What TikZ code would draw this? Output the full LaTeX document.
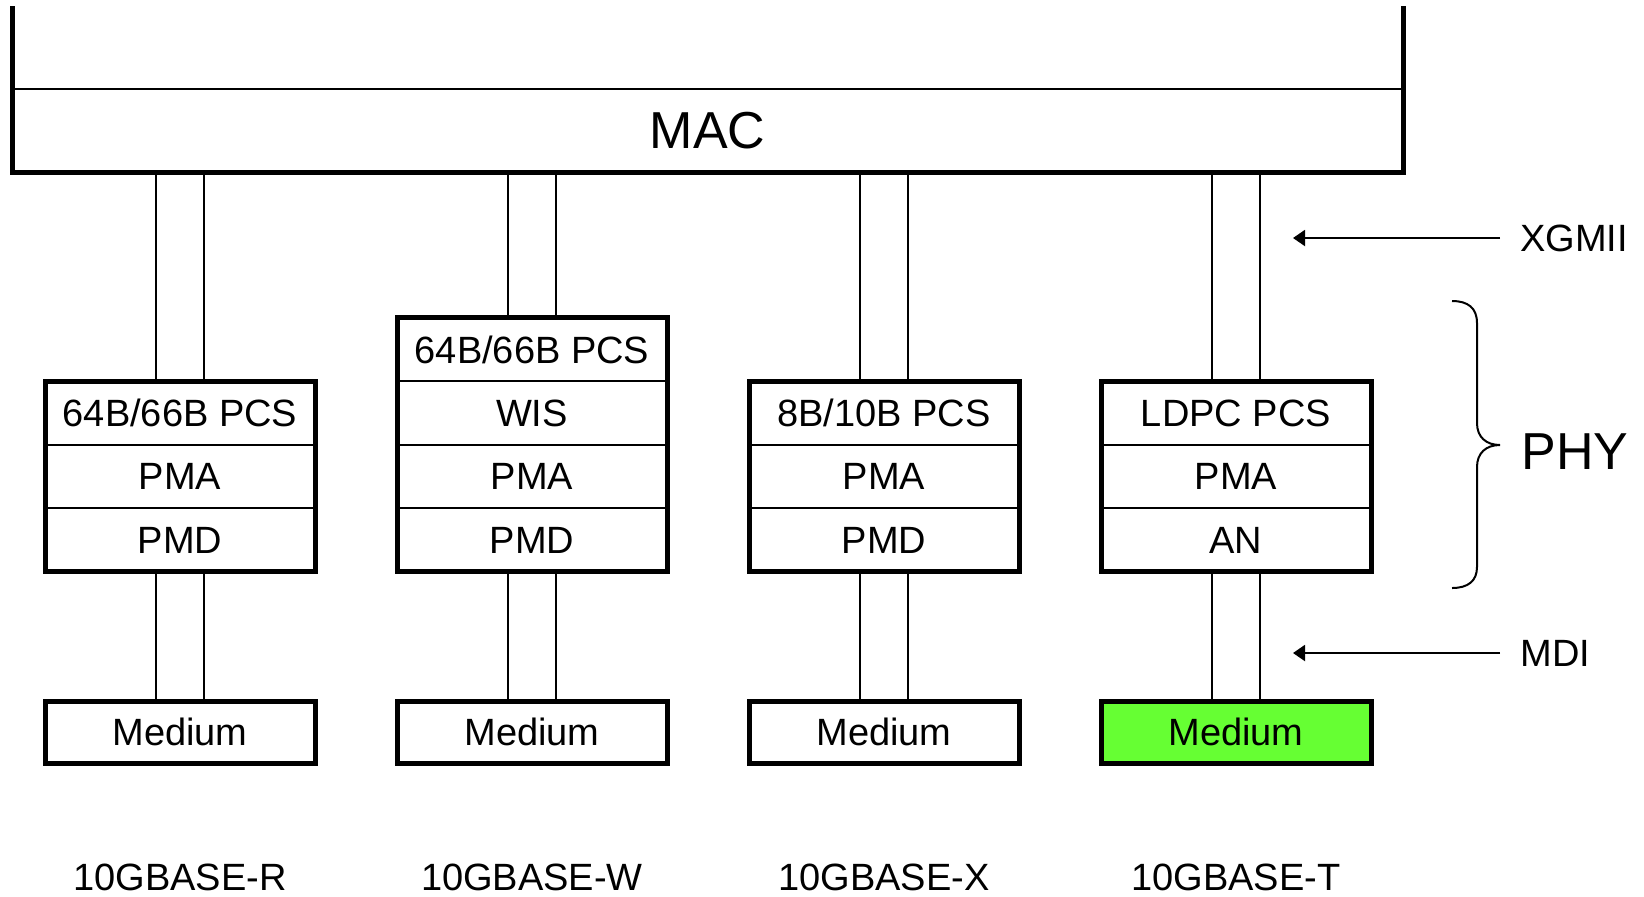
\documentclass[tikz,border=0pt]{standalone}
\usepackage{fontspec}
\setmainfont{Liberation Sans}
\usepackage{tikz}
\usetikzlibrary{arrows.meta}
\definecolor{medgreen}{RGB}{102,255,51}

\begin{document}
\begin{tikzpicture}[x=0.5pt, y=-0.5pt,
  thinln/.style={line width=1pt},
  thickln/.style={line width=2.5pt},
  layer/.style={draw, thinln, fill=white, minimum width=135pt, minimum height=31.75pt, inner sep=0pt, outer sep=0pt, font=\fontsize{19}{21}\selectfont},
  medium/.style={draw, thickln, fill=white, minimum width=135pt, minimum height=31pt, inner sep=0pt, outer sep=0pt, font=\fontsize{19}{21}\selectfont},
  lbl/.style={inner sep=0pt, font=\fontsize{19}{21}\selectfont},
  arr/.style={thinln, -{Triangle[length=6pt, width=8pt]}}]
  \useasboundingbox (0,0) rectangle (1644,896);

  % MAC
  \node[minimum width=695.5pt, minimum height=41.5pt, inner sep=0pt, outer sep=0pt, font=\fontsize{26}{30}\selectfont] (mac) at (707.5,130.5) {MAC};
  \draw[thinln] (mac.north west) -- (mac.north east);
  \draw[thickln] ([yshift=41.5pt]mac.north west) -- (mac.south west) -- (mac.south east) -- ([yshift=41.5pt]mac.north east);

  % 10GBASE-R
  \node[layer] (r1pcs) at (180,413) {64B/66B PCS};
  \node[layer] (r1pma) at (180,476.5) {PMA};
  \node[layer] (r1pmd) at (180,540) {PMD};
  \draw[thickln] (r1pcs.north west) rectangle (r1pmd.south east);
  \node[medium] (m1) at (180,732) {Medium};
  \draw[thinln] ([xshift=-12pt]r1pcs.north) -- ([xshift=-12pt]r1pcs.north |- mac.south);
  \draw[thinln] ([xshift=12pt]r1pcs.north) -- ([xshift=12pt]r1pcs.north |- mac.south);
  \draw[thinln] ([xshift=-12pt]r1pmd.south) -- ([xshift=-12pt]m1.north);
  \draw[thinln] ([xshift=12pt]r1pmd.south) -- ([xshift=12pt]m1.north);

  % 10GBASE-W
  \node[layer] (r2pcs) at (532,349.5) {64B/66B PCS};
  \node[layer] (r2wis) at (532,413) {WIS};
  \node[layer] (r2pma) at (532,476.5) {PMA};
  \node[layer] (r2pmd) at (532,540) {PMD};
  \draw[thickln] (r2pcs.north west) rectangle (r2pmd.south east);
  \node[medium] (m2) at (532,732) {Medium};
  \draw[thinln] ([xshift=-12pt]r2pcs.north) -- ([xshift=-12pt]r2pcs.north |- mac.south);
  \draw[thinln] ([xshift=12pt]r2pcs.north) -- ([xshift=12pt]r2pcs.north |- mac.south);
  \draw[thinln] ([xshift=-12pt]r2pmd.south) -- ([xshift=-12pt]m2.north);
  \draw[thinln] ([xshift=12pt]r2pmd.south) -- ([xshift=12pt]m2.north);

  % 10GBASE-X
  \node[layer] (r3pcs) at (884,413) {8B/10B PCS};
  \node[layer] (r3pma) at (884,476.5) {PMA};
  \node[layer] (r3pmd) at (884,540) {PMD};
  \draw[thickln] (r3pcs.north west) rectangle (r3pmd.south east);
  \node[medium] (m3) at (884,732) {Medium};
  \draw[thinln] ([xshift=-12pt]r3pcs.north) -- ([xshift=-12pt]r3pcs.north |- mac.south);
  \draw[thinln] ([xshift=12pt]r3pcs.north) -- ([xshift=12pt]r3pcs.north |- mac.south);
  \draw[thinln] ([xshift=-12pt]r3pmd.south) -- ([xshift=-12pt]m3.north);
  \draw[thinln] ([xshift=12pt]r3pmd.south) -- ([xshift=12pt]m3.north);

  % 10GBASE-T
  \node[layer] (r4pcs) at (1236,413) {LDPC PCS};
  \node[layer] (r4pma) at (1236,476.5) {PMA};
  \node[layer] (r4an) at (1236,540) {AN};
  \draw[thickln] (r4pcs.north west) rectangle (r4an.south east);
  \node[medium, fill=medgreen] (m4) at (1236,732) {Medium};
  \draw[thinln] ([xshift=-12pt]r4pcs.north) -- ([xshift=-12pt]r4pcs.north |- mac.south);
  \draw[thinln] ([xshift=12pt]r4pcs.north) -- ([xshift=12pt]r4pcs.north |- mac.south);
  \draw[thinln] ([xshift=-12pt]r4an.south) -- ([xshift=-12pt]m4.north);
  \draw[thinln] ([xshift=12pt]r4an.south) -- ([xshift=12pt]m4.north);

  % interfaces
  \node[lbl, anchor=west] (xgmii) at (1520,238) {XGMII};
  \coordinate (xgtip) at (1293,238);
  \draw[arr] ([xshift=-10pt]xgmii.west) -- (xgtip);
  \node[lbl, anchor=west] (mdi) at (1520,653) {MDI};
  \coordinate (mditip) at (1293,653);
  \draw[arr] ([xshift=-10pt]mdi.west) -- (mditip);

  % PHY brace
  \coordinate (phytip) at (1500,445);
  \node[inner sep=0pt, anchor=west, font=\fontsize{26}{30}\selectfont] (phy) at (1521,452) {PHY};
  \draw[thinln] (1452,301) .. controls (1468,301) and (1477,308) .. (1477,323) -- (1477,423)
    .. controls (1477,437) and (1486,445) .. (phytip)
    .. controls (1486,445) and (1477,453) .. (1477,467) -- (1477,567)
    .. controls (1477,581) and (1468,588) .. (1452,588);

  % names
  \node[lbl] (baseR) at (180,877) {10GBASE-R};
  \node[lbl] (baseW) at (532,877) {10GBASE-W};
  \node[lbl] (baseX) at (884,877) {10GBASE-X};
  \node[lbl] (baseT) at (1236,877) {10GBASE-T};
\end{tikzpicture}
\end{document}
